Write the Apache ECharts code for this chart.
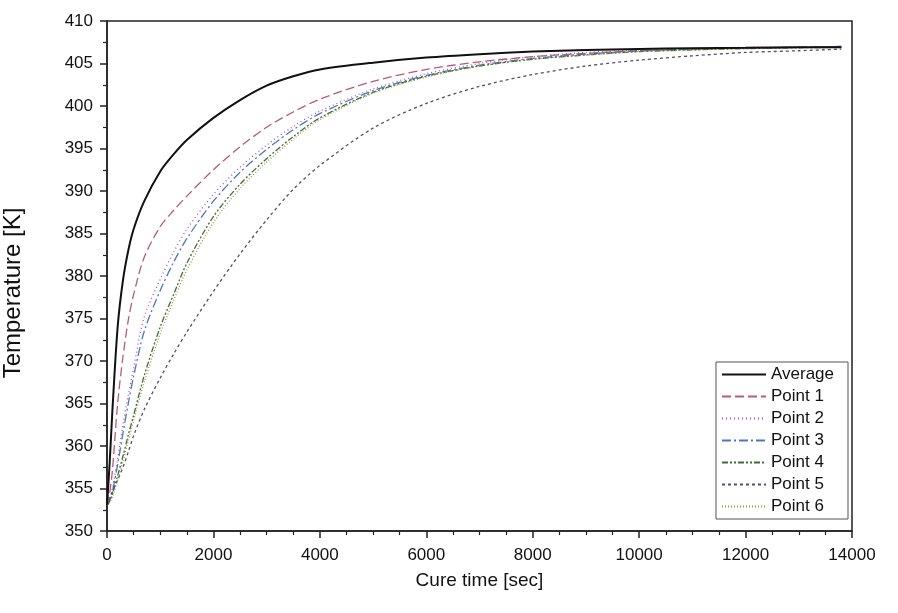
<!DOCTYPE html>
<html>
<head>
<meta charset="utf-8">
<script src="https://cdn.jsdelivr.net/npm/echarts@6/dist/echarts.min.js"></script>
<style>
html,body{margin:0;padding:0;background:#fff;}
#chart{width:898px;height:613px;}
</style>
</head>
<body>
<div id="chart"></div>
<script>
// Cure time [sec]
var times = [0, 50, 100, 200, 300, 400, 500, 700, 1000, 1250, 1500, 2000, 2500, 3000, 3500, 4000, 5000, 6000, 7000, 8000, 9000, 10000, 11000, 12000, 13000, 13800];

// Temperature [K]
var average = [353, 358, 364, 374, 379.5, 383, 385.5, 388.8, 392.3, 394.3, 396, 398.6, 400.7, 402.4, 403.5, 404.3, 405.1, 405.7, 406.1, 406.4, 406.6, 406.7, 406.8, 406.85, 406.9, 406.9];
var point1 = [353, 354.5, 357, 365, 370.5, 374.8, 377.8, 382.2, 385.8, 387.7, 389.4, 392.5, 395.2, 397.5, 399.3, 400.8, 402.9, 404.3, 405.2, 405.8, 406.2, 406.5, 406.7, 406.8, 406.9, 407];
var point2 = [353, 353.8, 355, 358.5, 362.5, 366, 369.2, 375.2, 379.6, 382.8, 385.5, 389.6, 392.8, 395.4, 397.6, 399.4, 402, 403.8, 405, 405.8, 406.3, 406.6, 406.8, 406.9, 406.95, 407];
var point3 = [353, 353.6, 354.6, 357.8, 361.5, 365, 368.2, 373.5, 378.3, 381.6, 384.4, 388.8, 392.2, 394.9, 397.2, 399.1, 401.8, 403.6, 404.8, 405.6, 406.1, 406.5, 406.7, 406.85, 406.9, 407];
var point4 = [353, 353.5, 354.3, 356.5, 358.8, 361.3, 363.6, 368.3, 374, 377.8, 381.5, 387, 390.8, 393.8, 396.4, 398.6, 401.6, 403.5, 404.7, 405.5, 406, 406.4, 406.6, 406.75, 406.85, 406.9];
var point5 = [353, 353.8, 354.6, 356, 357.5, 359.3, 361.2, 364.3, 368, 370.8, 373.4, 378.2, 382.6, 386.6, 390.2, 393, 397.4, 400.3, 402.3, 403.7, 404.7, 405.4, 405.9, 406.3, 406.5, 406.7];
var point6 = [353, 353.4, 354, 356, 358.2, 360.6, 363, 367.5, 373.2, 377.1, 380.7, 386.3, 390.3, 393.4, 396.1, 398.4, 401.5, 403.4, 404.7, 405.5, 406, 406.4, 406.6, 406.75, 406.85, 406.9];

var seriesNames = ['Average', 'Point 1', 'Point 2', 'Point 3', 'Point 4', 'Point 5', 'Point 6'];
var seriesValues = [average, point1, point2, point3, point4, point5, point6];
var seriesColors = ['#111111', '#b85a7a', '#c04ab8', '#4a78c0', '#3f6a3f', '#50506a', '#9a9a3a'];
var seriesDash = ['solid', [9, 4], [1, 3], [9, 3, 2, 3], [6, 2, 2, 2, 2, 2], [3, 3], [1, 2]];
var seriesWidth = [2, 1.3, 1.3, 1.3, 1.3, 1.3, 1.3];

function pairs(vals) {
  return times.map(function (t, i) { return [t, vals[i]]; });
}

var series = seriesNames.map(function (n, i) {
  return {
    name: n,
    type: 'line',
    data: pairs(seriesValues[i]),
    symbol: 'none',
    smooth: 0.3,
    color: seriesColors[i],
    lineStyle: { color: seriesColors[i], width: seriesWidth[i], type: seriesDash[i] },
    z: i === 0 ? 3 : 2
  };
});

var fontFam = '"Liberation Sans", Arial, sans-serif';
var chart = echarts.init(document.getElementById('chart'), null, { renderer: 'canvas' });
chart.setOption({
  animation: false,
  backgroundColor: '#ffffff',
  textStyle: { fontFamily: fontFam },
  grid: {
    left: 107, right: 46, top: 21, bottom: 82,
    outerBoundsMode: 'none',
    containLabel: false,
    show: true, borderColor: '#222', borderWidth: 1.5, backgroundColor: 'transparent'
  },
  legend: {
    orient: 'vertical',
    right: 50,
    top: 362,
    data: seriesNames,
    itemWidth: 44,
    itemHeight: 14,
    itemGap: 5,
    padding: [4, 14, 4, 5],
    borderColor: '#555',
    borderWidth: 1,
    backgroundColor: '#fff',
    itemStyle: { opacity: 0 },
    textStyle: { fontSize: 17, color: '#111', fontFamily: fontFam }
  },
  xAxis: {
    type: 'value',
    min: 0, max: 14000, interval: 2000,
    name: 'Cure time [sec]',
    nameLocation: 'middle',
    nameGap: 40,
    nameTextStyle: { fontSize: 19, color: '#111', fontFamily: fontFam },
    axisLine: { show: true, lineStyle: { color: '#222', width: 1.5 } },
    axisTick: { show: true, inside: false, length: 7, lineStyle: { color: '#222', width: 1.5 } },
    minorTick: { show: true, splitNumber: 4, length: 4, lineStyle: { color: '#222', width: 1.2 } },
    axisLabel: { fontSize: 17, color: '#111', margin: 16, fontFamily: fontFam, formatter: function (v) { return String(v); } },
    splitLine: { show: false },
    minorSplitLine: { show: false }
  },
  yAxis: {
    type: 'value',
    min: 350, max: 410, interval: 5,
    name: 'Temperature [K]',
    nameLocation: 'middle',
    nameGap: 82,
    nameTextStyle: { fontSize: 24, color: '#111', fontFamily: fontFam, padding: [0, 34, 0, 0] },
    axisLine: { show: true, lineStyle: { color: '#222', width: 1.5 } },
    axisTick: { show: true, inside: false, length: 7, lineStyle: { color: '#222', width: 1.5 } },
    minorTick: { show: true, splitNumber: 2, length: 4, lineStyle: { color: '#222', width: 1.2 } },
    axisLabel: { fontSize: 17, color: '#111', margin: 14, fontFamily: fontFam, formatter: function (v) { return String(v); } },
    splitLine: { show: false },
    minorSplitLine: { show: false }
  },
  series: series
});
</script>
</body>
</html>
